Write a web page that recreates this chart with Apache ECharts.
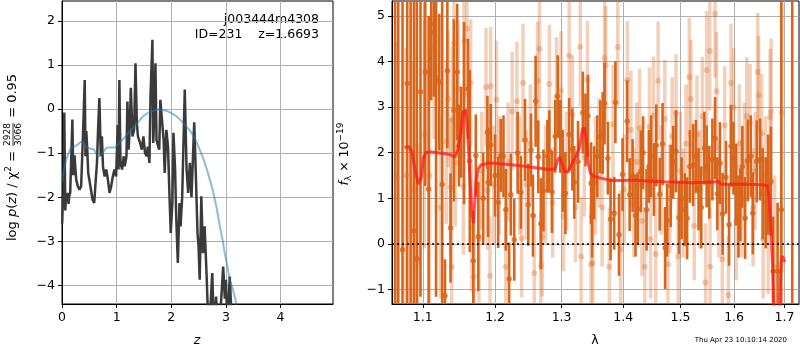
<!DOCTYPE html>
<html>
<head>
<meta charset="utf-8">
<script src="https://cdn.jsdelivr.net/npm/echarts@6/dist/echarts.min.js"></script>
<style>
  html, body { margin: 0; background: #fff; }
  #c { width: 800px; height: 350px; }
</style>
</head>
<body>
<div id="c"></div>
<script>
// ---- left panel: redshift PDF (log p(z)) ----
var pzZ = [0.003,0.02,0.03,0.042,0.06,0.075,0.09,0.105,0.12,0.135,
  0.15,0.17,0.19,0.205,0.215,0.23,0.245,0.26,0.29,0.32,
  0.35,0.37,0.395,0.416,0.43,0.445,0.46,0.48,0.5,0.53,
  0.56,0.59,0.61,0.64,0.66,0.684,0.71,0.73,0.75,0.78,
  0.81,0.84,0.87,0.9,0.93,0.96,0.99,1.02,1.035,1.05,
  1.07,1.1,1.13,1.148,1.18,1.197,1.22,1.24,1.26,1.29,
  1.32,1.345,1.37,1.39,1.43,1.46,1.49,1.52,1.55,1.57,
  1.6,1.62,1.655,1.67,1.69,1.71,1.73,1.76,1.78,1.8,
  1.83,1.86,1.88,1.91,1.94,1.96,1.99,2.02,2.04,2.07,
  2.09,2.12,2.15,2.17,2.2,2.22,2.247,2.28,2.31,2.34,
  2.37,2.42,2.45,2.48,2.5,2.52,2.55,2.58,2.61,2.64,
  2.65,2.68,2.72,2.75,2.78,2.82,2.85,2.9,2.95,2.98,
  3.0,3.03,3.07,3.1,3.13];
var pzLog = [-2.6,-1.95,-2.2,-0.08,-2.3,-1.95,-2.1,-1.9,-2.15,-1.95,
  -1.9,-1.07,-0.24,-1.5,-1.2,-1.05,-1.35,-1.6,-1.75,-1.83,
  -1.75,-1.07,-0.17,0.66,-1.07,-0.5,-0.85,-1.45,-1.6,-1.83,
  -2.06,-2.13,-1.75,-1.22,-0.47,0.25,-1.07,-0.62,-1.3,-1.53,
  -1.37,-1.6,-1.9,-1.75,-1.53,-1.37,-1.53,-0.36,-1.37,0.66,
  -1.22,-1.37,-1.07,-1.3,-1.07,0.17,-0.92,-0.39,0.48,-0.62,
  -0.47,1.04,-0.32,-0.62,-0.77,-0.92,-0.62,-1.0,-1.07,-0.85,
  -1.22,0.29,1.57,-0.77,-0.09,1.04,-0.7,-0.85,-0.92,0.21,
  0.17,-0.7,-1.45,-0.47,-0.85,-1.68,-2.81,-2.13,-0.54,-1.37,
  -2.44,-3.49,-2.13,-2.66,-1.98,-2.0,0.44,-1.37,-1.9,-1.22,
  -2.0,-0.3,-1.5,-2.81,-3.12,-3.87,-1.98,-3.27,-2.66,-2.7,
  -3.87,-5.0,-4.4,-3.72,-5.0,-4.25,-5.0,-4.6,-3.57,-4.3,
  -3.87,-5.0,-3.8,-4.6,-5.0];
var fitZ = [0,0.04,0.08,0.12,0.17,0.23,0.29,0.355,0.4,0.44,
  0.53,0.59,0.66,0.74,0.8,0.84,0.96,1.05,1.12,1.23,
  1.3,1.4,1.48,1.58,1.67,1.76,1.85,1.93,2.0,2.1,
  2.19,2.28,2.37,2.45,2.52,2.6,2.67,2.74,2.8,2.85,
  2.89,2.94,2.98,3.03,3.07,3.1,3.13,3.16,3.19,3.22];
var fitLog = [-1.65,-1.35,-1.15,-1.0,-0.87,-0.85,-0.8,-0.74,-0.8,-0.86,
  -0.9,-0.93,-1.07,-1.0,-0.9,-0.87,-0.87,-0.76,-0.68,-0.52,
  -0.43,-0.29,-0.17,-0.08,-0.04,-0.01,-0.02,-0.05,-0.09,-0.17,
  -0.28,-0.4,-0.54,-0.72,-0.92,-1.17,-1.45,-1.75,-2.06,-2.38,
  -2.66,-2.98,-3.27,-3.58,-3.87,-3.98,-4.1,-4.25,-4.42,-4.7];

// ---- right panel: spectrum ----
var darkWave = [1.064,1.068,1.0735,1.0796,1.084,1.0884,1.0922,1.097,1.1033,1.1078,
  1.1112,1.115,1.1177,1.122,1.126,1.1298,1.133,1.1374,1.142,1.1465,
  1.149,1.152,1.156,1.1615,1.164,1.169,1.1725,1.176,1.183,1.189,
  1.19,1.1937,1.2,1.2045,1.2083,1.2122,1.2156,1.2205,1.223,1.228,
  1.233,1.2379,1.244,1.249,1.253,1.256,1.26,1.264,1.268,1.272,
  1.278,1.281,1.285,1.29,1.294,1.298,1.302,1.306,1.312,1.317,
  1.32,1.326,1.3336,1.338,1.342,1.347,1.3486,1.352,1.357,1.362,
  1.366,1.369,1.3745,1.379,1.385,1.387,1.393,1.399,1.4068,1.411,
  1.416,1.421,1.425,1.43,1.434,1.44,1.444,1.448,1.4529,1.457,
  1.463,1.468,1.4725,1.476,1.4826,1.487,1.492,1.4973,1.502,1.5078,
  1.512,1.517,1.523,1.528,1.533,1.538,1.5437,1.548,1.553,1.5587,
  1.5637,1.568,1.573,1.578,1.5845,1.5903,1.594,1.5988,1.604,1.6085,
  1.612,1.616,1.6214,1.6266,1.6325,1.6364,1.6443,1.6509,1.656,1.662,
  1.667,1.6725,1.677,1.686,1.6935,1.716];
var darkFlux = [6.0,-2.0,-0.13,3.52,6.5,0.29,-0.32,3.34,3.77,1.2,
  4.65,4.83,3.64,3.55,1.3,-1.14,3.8,0.35,2.93,3.77,
  2.16,2.45,2.87,3.4,1.82,-0.37,1.94,0.16,1.0,2.45,
  1.35,2.17,1.5,0.91,1.94,1.92,0.75,-0.77,1.08,0.09,
  2.0,1.13,2.28,0.86,2.06,0.62,3.13,1.91,0.44,1.17,
  1.92,2.03,1.14,2.36,3.24,2.36,1.6,1.11,2.4,2.07,
  1.35,1.8,2.88,2.5,2.81,1.33,0.6,1.34,1.92,2.35,
  2.43,3.08,1.88,0.54,0.67,3.11,0.2,1.52,2.69,1.08,
  1.5,0.62,0.77,1.59,2.0,0.75,1.7,1.92,1.41,2.16,
  1.09,2.19,-0.09,0.52,1.27,1.79,2.03,0.58,1.0,0.75,
  0.56,1.7,1.73,1.92,1.2,0.8,2.1,1.7,1.35,1.85,
  2.32,1.1,1.77,0.66,1.46,0.42,2.15,1.88,1.3,0.6,
  0.86,1.69,0.57,1.83,1.92,0.67,1.81,1.85,1.1,0.9,
  1.3,1.37,-0.6,-0.6,0.75,8.0];
var darkErr = [20,20,20,20,20,20,20,4.5,2.5,3.8,
  1.5,1.6,4.8,1.5,4.2,0.8,1.7,1.2,2.0,1.5,
  0.9,1.0,2.0,1.1,2.0,1.1,0.9,1.2,1.0,0.8,
  1.2,0.9,0.9,1.0,0.8,0.9,0.9,0.8,0.9,0.9,
  0.9,0.8,0.9,0.9,0.8,0.9,1.0,0.8,1.0,0.9,
  0.8,0.9,0.9,0.8,0.9,0.8,0.9,0.9,0.8,0.9,
  0.8,0.9,0.9,0.8,0.9,0.9,0.9,0.8,0.9,0.8,
  0.9,0.9,0.8,0.9,0.8,0.9,0.9,0.8,0.9,0.8,
  0.8,0.9,0.8,0.9,0.8,0.9,0.8,0.9,0.8,0.9,
  0.8,0.9,0.9,0.8,0.9,0.8,0.9,0.8,0.9,0.8,
  0.9,0.8,0.9,0.8,0.9,0.9,0.8,0.9,0.8,0.9,
  0.9,0.8,0.9,0.9,0.8,0.9,0.9,0.8,0.9,0.9,
  0.8,0.9,0.9,0.9,0.9,0.9,0.9,0.9,1.0,1.0,
  1.1,1.2,1.2,1.5,20,20];

var lightWave = [1.066,1.078,1.0875,1.093,1.102,1.109,1.115,1.1237,1.1315,1.134,
  1.1374,1.139,1.1397,1.142,1.144,1.148,1.155,1.156,1.16,1.1652,
  1.1665,1.1698,1.177,1.181,1.187,1.189,1.1927,1.1937,1.198,1.202,
  1.206,1.2156,1.219,1.225,1.232,1.236,1.239,1.241,1.246,1.252,
  1.258,1.263,1.266,1.268,1.27,1.275,1.281,1.286,1.292,1.2991,
  1.303,1.308,1.312,1.317,1.322,1.3296,1.331,1.336,1.341,1.347,
  1.3497,1.354,1.36,1.365,1.369,1.371,1.377,1.383,1.391,1.396,
  1.402,1.407,1.413,1.418,1.423,1.428,1.432,1.437,1.445,1.447,
  1.452,1.456,1.4602,1.466,1.472,1.4775,1.481,1.485,1.492,1.496,
  1.5,1.505,1.51,1.516,1.519,1.525,1.53,1.535,1.54,1.546,
  1.548,1.554,1.5545,1.5637,1.5665,1.571,1.5775,1.582,1.589,1.594,
  1.599,1.604,1.61,1.615,1.62,1.6246,1.631,1.637,1.641,1.6462,
  1.648,1.654,1.657,1.662,1.667,1.671,1.673,1.68,1.6947];
var lightFlux = [1.45,1.5,1.2,-0.4,2.4,1.5,4.3,0.8,2.24,3.18,
  1.25,-0.5,2.73,4.41,1.78,3.4,1.26,4.45,4.72,3.53,
  0.35,-0.72,0.11,1.6,3.44,1.17,-0.7,3.46,1.3,3.16,
  1.5,-0.5,1.8,2.91,3.13,1.5,0.12,3.53,1.3,2.2,
  -0.64,3.58,4.28,-0.48,0.15,1.3,3.51,0.9,3.24,3.37,
  0.6,1.6,4.13,2.84,0.8,4.32,-0.28,1.9,3.59,-0.45,
  -0.42,1.5,2.0,0.8,4.08,3.92,-0.5,2.63,4.32,-0.12,
  1.2,3.59,2.5,0.9,1.8,2.54,0.5,-0.5,2.57,0.1,
  2.81,-0.22,3.58,1.4,2.74,-0.45,1.0,2.36,2.87,-0.28,
  1.6,0.9,2.2,3.66,3.18,0.4,2.4,1.2,2.8,-0.85,
  3.81,4.23,-0.5,5.05,3.35,1.0,-0.34,2.6,-1.12,3.53,
  3.0,0.5,2.2,1.0,1.8,2.8,2.65,0.8,1.6,3.77,
  3.26,2.43,0.1,1.5,0.3,2.78,2.9,-0.5,2.88];
var lightErr = [3.0,2.8,2.8,2.6,2.5,2.8,2.0,2.0,1.8,1.5,
  1.5,1.5,1.6,1.5,1.4,1.5,1.5,1.4,1.5,1.4,
  1.4,1.4,1.4,1.3,1.3,1.3,1.3,1.3,1.3,1.3,
  1.3,1.3,1.3,1.3,1.3,1.3,1.3,1.3,1.2,1.3,
  1.3,1.3,1.3,1.2,1.3,1.3,1.3,1.2,1.3,1.3,
  1.2,1.3,1.3,1.3,1.2,1.3,1.3,1.3,1.3,1.3,
  1.2,1.3,1.2,1.3,1.3,1.3,1.3,1.3,1.3,1.3,
  1.2,1.3,1.3,1.2,1.3,1.3,1.2,1.3,1.3,1.3,
  1.3,1.3,1.3,1.2,1.3,1.3,1.2,1.3,1.3,1.3,
  1.3,1.2,1.3,1.3,1.3,1.2,1.3,1.3,1.3,1.3,
  1.3,1.3,1.3,1.4,1.3,1.3,1.3,1.3,1.3,1.3,
  1.3,1.3,1.3,1.3,1.3,1.3,1.3,1.3,1.3,1.3,
  1.3,1.3,1.3,1.3,1.4,1.5,1.6,2.0,3.5];

var modelWave = [1.076,1.082,1.086,1.09,1.094,1.098,1.101,1.104,1.11,1.12,
  1.13,1.138,1.143,1.147,1.151,1.155,1.158,1.161,1.164,1.167,
  1.169,1.171,1.173,1.176,1.18,1.19,1.2,1.21,1.22,1.24,
  1.26,1.28,1.29,1.294,1.297,1.301,1.305,1.31,1.316,1.322,
  1.328,1.333,1.336,1.339,1.342,1.346,1.352,1.36,1.37,1.38,
  1.4,1.42,1.44,1.46,1.48,1.5,1.52,1.545,1.56,1.571,
  1.574,1.59,1.62,1.645,1.66,1.666,1.669,1.672,1.676,1.679,
  1.683,1.687,1.69,1.693,1.696,1.699,1.701];
var modelFlux = [2.12,2.13,2.0,1.6,1.32,1.45,1.9,2.0,2.02,2.0,
  1.98,1.95,1.9,2.05,2.4,2.9,2.95,2.5,1.5,0.7,
  0.45,0.9,1.4,1.65,1.73,1.77,1.77,1.75,1.74,1.71,
  1.67,1.63,1.65,1.85,1.9,1.75,1.58,1.58,1.75,1.9,
  2.1,2.5,2.55,2.3,1.8,1.55,1.48,1.45,1.42,1.39,
  1.39,1.4,1.38,1.37,1.36,1.35,1.34,1.35,1.36,1.37,
  1.31,1.31,1.31,1.3,1.29,1.27,1.0,0.4,-0.5,-1.8,
  -2.5,-2.5,-1.5,-0.4,-0.27,-0.35,-0.4];

var zTicks = [0, 1, 2, 3, 4];
var logpTicks = [-4, -3, -2, -1, 0, 1, 2];
var waveTicks = [1.1, 1.2, 1.3, 1.4, 1.5, 1.6, 1.7];
var fluxTicks = [-1, 0, 1, 2, 3, 4, 5];

var FONT = 'DejaVu Sans';
var FS = 12.5;
var DARK = '#d8651a';

function zip(a, b) { return a.map(function (v, i) { return [v, b[i]]; }); }
function lg(w) { return Math.log10(w); }
function minus(v) {
  var s = String(Math.round(v * 100) / 100);
  return s.charAt(0) === '-' ? '\u2212' + s.slice(1) : s;
}

function axis(gi, min, max, ticks, fmt) {
  return {
    type: 'value', gridIndex: gi, min: min, max: max,
    axisLine: { show: true, onZero: false, lineStyle: { color: '#000', width: 1 } },
    axisTick: { show: true, inside: false, length: 4, customValues: ticks,
      lineStyle: { color: '#000', width: 1 } },
    axisLabel: { customValues: ticks, formatter: fmt, color: '#000',
      fontFamily: FONT, fontSize: FS, margin: 7 },
    splitLine: { show: true, lineStyle: { color: '#b0b0b0', width: 1 } }
  };
}

function errBars(width, color, opacity) {
  return function (params, api) {
    var x = api.value(0), y = api.value(1), e = api.value(2);
    var top = api.coord([x, y + e]), bot = api.coord([x, y - e]);
    var rect = echarts.graphic.clipRectByRect(
      { x: top[0] - width / 2, y: top[1], width: width, height: bot[1] - top[1] },
      params.coordSys);
    if (!rect) return;
    return { type: 'rect', shape: rect, style: { fill: color, opacity: opacity } };
  };
}

var darkData = darkWave.map(function (w, i) { return [lg(w), darkFlux[i], darkErr[i]]; });
var lightData = lightWave.map(function (w, i) { return [lg(w), lightFlux[i], lightErr[i]]; });

var chart = echarts.init(document.getElementById('c'));
chart.setOption({
  animation: false,
  grid: [
    { left: 62, top: 1, width: 271, height: 303, show: true, borderColor: '#000', borderWidth: 1 },
    { left: 392, top: 1, width: 407, height: 303, show: true, borderColor: '#000', borderWidth: 1 }
  ],
  xAxis: [
    axis(0, 0, 4.96, zTicks, minus),
    axis(1, lg(1.06), lg(1.73), waveTicks.map(lg), function (v) { return Math.pow(10, v).toFixed(1); })
  ],
  yAxis: [
    axis(0, -4.42, 2.45, logpTicks, minus),
    axis(1, -1.32, 5.33, fluxTicks, minus)
  ],
  series: [
    { type: 'line', xAxisIndex: 0, yAxisIndex: 0, data: zip(pzZ, pzLog), showSymbol: false,
      lineStyle: { color: '#3a3a3a', width: 2.5 }, z: 3 },
    { type: 'line', xAxisIndex: 0, yAxisIndex: 0, data: zip(fitZ, fitLog), showSymbol: false, smooth: 0.3,
      lineStyle: { color: '#1f77b4', width: 2, opacity: 0.5 }, z: 4 },
    { type: 'custom', xAxisIndex: 1, yAxisIndex: 1, data: lightData,
      renderItem: errBars(3.5, DARK, 0.3), z: 2 },
    { type: 'scatter', xAxisIndex: 1, yAxisIndex: 1, data: lightData, symbolSize: 6,
      itemStyle: { color: DARK, opacity: 0.3 }, z: 3 },
    { type: 'custom', xAxisIndex: 1, yAxisIndex: 1, data: darkData,
      renderItem: errBars(2.6, DARK, 1), z: 4 },
    { type: 'scatter', xAxisIndex: 1, yAxisIndex: 1, data: darkData, symbolSize: 5.5,
      itemStyle: { color: DARK }, z: 5 },
    { type: 'line', xAxisIndex: 1, yAxisIndex: 1,
      data: modelWave.map(function (w, i) { return [lg(w), modelFlux[i]]; }),
      showSymbol: false, lineStyle: { color: '#ff1a1a', width: 3, opacity: 0.75 }, z: 6,
      markLine: { silent: true, symbol: 'none', label: { show: false }, z: 7,
        lineStyle: { color: '#000', type: [2, 3], width: 1.5, opacity: 1 },
        data: [{ yAxis: 0 }] } }
  ],
  graphic: [
    { type: 'text', x: 319, y: 20, style: { text: 'j003444m4308', align: 'right', verticalAlign: 'middle',
      fontFamily: FONT, fontSize: FS, fill: '#000' } },
    { type: 'text', x: 319, y: 35, style: { text: 'ID=231    z=1.6693', align: 'right', verticalAlign: 'middle',
      fontFamily: FONT, fontSize: FS, fill: '#000' } },
    { type: 'text', x: 197, y: 341, style: { text: 'z', align: 'center', verticalAlign: 'middle',
      fontFamily: FONT, fontSize: FS, fontStyle: 'italic', fill: '#000' } },
    { type: 'text', x: 595, y: 341, style: { text: '\u03bb', align: 'center', verticalAlign: 'middle',
      fontFamily: FONT, fontSize: FS, fill: '#000' } },
    { type: 'text', x: 787, y: 340, style: { text: 'Thu Apr 23 10:10:14 2020', align: 'right', verticalAlign: 'middle',
      fontFamily: FONT, fontSize: 7, fill: '#000' } },
    { type: 'group', x: 13, y: 155, rotation: Math.PI / 2, children: [
      { type: 'text', x: -86, y: 0, style: {
        text: 'log {i|p}({i|z}) / \u03c7{s|2} = ', align: 'left', verticalAlign: 'middle',
        fontFamily: FONT, fontSize: 13, fill: '#000',
        rich: { i: { fontStyle: 'italic', fontFamily: FONT, fontSize: 13 },
                s: { fontFamily: FONT, fontSize: 9, padding: [0, 0, 8, 0] } } } },
      { type: 'text', x: 20.5, y: -1, style: { text: '2928', align: 'center', verticalAlign: 'bottom',
        fontFamily: FONT, fontSize: 9, fill: '#000' } },
      { type: 'line', shape: { x1: 9, y1: 0, x2: 32, y2: 0 }, style: { stroke: '#000', lineWidth: 0.8 } },
      { type: 'text', x: 20.5, y: 1, style: { text: '3066', align: 'center', verticalAlign: 'top',
        fontFamily: FONT, fontSize: 9, fill: '#000' } },
      { type: 'text', x: 33, y: 0, style: { text: ' = 0.95', align: 'left', verticalAlign: 'middle',
        fontFamily: FONT, fontSize: 13, fill: '#000' } }
    ] },
    { type: 'text', x: 345, y: 154, rotation: Math.PI / 2, style: {
      text: '{i|f}{sub|\u03bb} \u00d7 10{sup|\u221219}', align: 'center', verticalAlign: 'middle',
      fontFamily: FONT, fontSize: FS, fill: '#000',
      rich: { i: { fontStyle: 'italic', fontFamily: FONT, fontSize: FS },
              sub: { fontFamily: FONT, fontSize: 9, padding: [8, 0, 0, 0] },
              sup: { fontFamily: FONT, fontSize: 9, padding: [0, 0, 9, 0] } } } }
  ]
});
</script>
</body>
</html>
